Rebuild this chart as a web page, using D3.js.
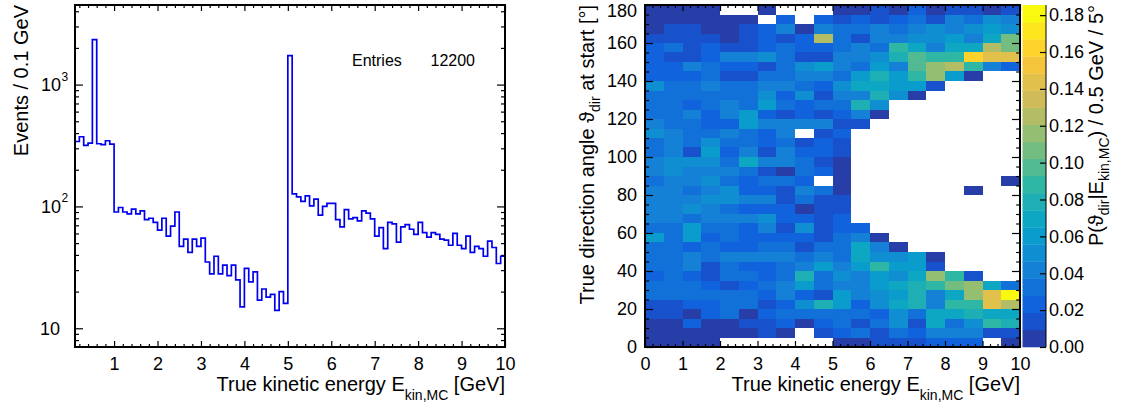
<!DOCTYPE html>
<html>
<head>
<meta charset="utf-8">
<script src="https://cdn.jsdelivr.net/npm/d3@7/dist/d3.min.js"></script>
<style>
  body { margin: 0; background: #fff; }
  svg text { font-family: "Liberation Sans", Arial, Helvetica, sans-serif; fill: #000; }
  .lbl, .tick text { font-size: 18px; }
  .title { font-size: 20px; }
</style>
</head>
<body>
<svg id="chart" width="1121" height="406"></svg>
<script>
// left plot: events per 0.1 GeV, first bin starts at 0.1 GeV
var histStart = 0.1, histStep = 0.1;
var eventCounts = [
  341, 373, 317, 331, 2340, 327, 321, 346, 325,
  90, 98, 90, 87, 95, 87, 92, 78, 80, 74,
  64, 80, 57, 69, 90, 47, 54, 42, 54, 47,
  55, 35, 28, 39, 28, 33, 27, 33, 25, 15,
  31, 24, 29, 17, 21, 18, 19, 14, 20, 16,
  1727, 127, 120, 110, 122, 101, 115, 85, 100, 106,
  106, 78, 68, 94, 79, 81, 76, 92, 88, 79,
  57, 67, 45, 74, 72, 51, 68, 71, 65, 59,
  74, 61, 56, 61, 59, 54, 53, 48, 60, 48,
  45, 57, 42, 47, 45, 39, 52, 46, 34, 39
];
var entries = 12200;
var logTicks = [10, 100, 1000];

// right plot: P(theta|E) x 1000, rows = 5 deg bins from 0 deg up, columns = 0.5 GeV bins
var energyStep = 0.5, angleStep = 5;
var probPerMille = [
  [5,5,5,5,0,0,0,0,0,0, 5,5,14,14,14,23,23,23,0,5],
  [5,5,5,5,5,5,14,5,0,14, 23,32,14,32,23,42,42,42,14,14],
  [5,5,23,5,5,14,14,23,5,23, 32,14,32,51,14,70,32,51,88,79],
  [14,14,5,23,32,5,23,32,32,32, 32,32,23,51,32,70,70,79,70,70],
  [14,14,23,23,32,32,14,23,51,79, 60,23,51,70,79,42,88,88,144,125],
  [32,32,32,32,32,32,23,42,23,14, 60,42,51,60,79,42,70,116,144,184],
  [32,32,32,23,14,23,32,42,60,32, 42,42,60,70,79,88,107,116,70,32],
  [23,32,23,14,32,32,23,32,79,32, 51,42,60,51,70,116,88,14,0,0],
  [32,32,42,14,32,23,23,32,42,60, 42,60,88,60,60,14,0,0,0,0],
  [32,32,42,32,42,42,42,42,32,42, 32,70,51,51,60,5,0,0,0,0],
  [32,32,23,32,23,23,32,32,14,32, 32,70,42,5,0,0,0,0,0,0],
  [60,32,60,23,32,23,23,23,23,14, 32,42,5,0,0,0,0,0,0,0],
  [32,32,60,32,32,23,42,14,51,14, 23,23,0,0,0,0,0,0,0,0],
  [42,42,32,42,42,42,51,23,23,14, 23,0,0,0,0,0,0,0,0,0],
  [42,42,51,42,32,23,23,23,5,14, 14,0,0,0,0,0,0,0,0,0],
  [42,42,42,51,51,42,42,14,32,14, 14,0,0,0,0,0,0,0,0,0],
  [42,42,32,42,51,23,23,14,42,32, 5,0,0,0,0,0,0,5,0,0],
  [32,42,42,51,32,23,32,32,23,0, 5,0,0,0,0,0,0,0,0,5],
  [42,51,42,42,42,32,14,5,32,23, 5,0,0,0,0,0,0,0,0,0],
  [42,51,51,51,32,70,42,42,32,14, 5,0,0,0,0,0,0,0,0,0],
  [32,42,14,60,23,42,14,42,23,23, 14,0,0,0,0,0,0,0,0,0],
  [32,42,32,51,32,32,23,32,14,23, 14,0,0,0,0,0,0,0,0,0],
  [51,42,32,32,42,32,23,42,0,14, 23,0,0,0,0,0,0,0,0,0],
  [42,32,32,23,23,60,42,42,42,42, 14,14,0,0,0,0,0,0,0,0],
  [32,32,42,23,42,60,23,14,23,14, 23,42,5,0,0,0,0,0,0,0],
  [32,32,23,32,42,32,60,32,23,32, 32,79,51,0,0,0,0,0,0,0],
  [32,32,32,32,32,32,51,23,51,14, 42,42,79,51,5,0,0,0,0,0],
  [51,32,32,42,32,32,42,42,32,23, 51,70,70,60,60,14,0,0,0,0],
  [23,23,23,32,14,14,32,32,42,42, 32,60,79,60,88,116,60,5,0,0],
  [23,23,42,32,23,23,14,32,51,60, 42,32,60,42,97,116,125,88,42,23],
  [23,14,14,23,42,42,51,32,14,14, 42,42,51,79,97,88,88,162,144,144],
  [23,32,14,23,14,14,23,32,23,23, 32,42,32,88,70,42,70,70,125,107],
  [14,14,14,14,5,14,23,14,23,125, 32,14,42,42,51,51,60,42,70,107],
  [5,14,14,5,5,14,23,42,5,42, 32,32,42,32,42,51,42,51,60,51],
  [5,5,5,5,5,5,0,23,0,23, 14,23,14,23,32,14,42,32,51,42],
  [5,5,5,5,0,0,5,0,0,0, 5,5,14,5,23,5,14,14,5,14]
];
var zMax = 0.1855;
var zTicks = [0, 0.02, 0.04, 0.06, 0.08, 0.10, 0.12, 0.14, 0.16, 0.18];

// ROOT kBird palette, 20 contours
var birdStops = [0.0000, 0.1250, 0.2500, 0.3750, 0.5000, 0.6250, 0.7500, 0.8750, 1.0000];
var birdRed   = [0.2082, 0.0592, 0.0780, 0.0232, 0.1802, 0.5301, 0.8186, 0.9956, 0.9764];
var birdGreen = [0.1664, 0.3599, 0.5041, 0.6419, 0.7178, 0.7492, 0.7328, 0.7862, 0.9832];
var birdBlue  = [0.5293, 0.8684, 0.8385, 0.7914, 0.6425, 0.4662, 0.3499, 0.1968, 0.0539];
var nContours = 20;

var bird = d3.scaleLinear()
  .domain(birdStops)
  .range(birdStops.map(function(s, i) { return d3.rgb(birdRed[i]*255, birdGreen[i]*255, birdBlue[i]*255); }))
  .interpolate(d3.interpolateRgb);
var bandColors = d3.range(nContours).map(function(c) {
  return bird(Math.floor((c + 0.99) * 255 / nContours) / 255);
});
var zColor = d3.scaleQuantize().domain([0, zMax]).range(bandColors);

var svg = d3.select("#chart");

function fineRange(lo, hi, step) {
  return d3.range(Math.round(lo/step), Math.round(hi/step) + 1).map(function(i) { return +(i*step).toFixed(4); });
}
function cleanAxis(g) {
  g.select(".domain").remove();
  g.attr("font-size", null).attr("font-family", null);
  g.selectAll(".tick line").attr("stroke-width", 1.2);
}

// ================= left: spectrum =================
var xE = d3.scaleLinear().domain([0.1, 10]).range([75, 505]);
var yN = d3.scaleLog().domain([7.02, 4500]).range([347, 5]);

var majorE = d3.range(1, 11);
var minorE = fineRange(0.2, 9.8, 0.2).filter(function(d) { return Math.abs(d - Math.round(d)) > 1e-6; });
var minorN = [8, 9, 20, 30, 40, 50, 60, 70, 80, 90, 200, 300, 400, 500, 600, 700, 800, 900, 2000, 3000, 4000];

svg.append("g").attr("transform", "translate(0,347)")
  .call(d3.axisBottom(xE).tickValues(majorE).tickSize(-6).tickPadding(10).tickFormat(d3.format("d")))
  .call(cleanAxis);
svg.append("g").attr("transform", "translate(0,347)")
  .call(d3.axisBottom(xE).tickValues(minorE).tickSize(-3).tickFormat(""))
  .call(cleanAxis);
svg.append("g").attr("transform", "translate(0,5)")
  .call(d3.axisTop(xE).tickValues(majorE).tickSize(-6).tickFormat(""))
  .call(cleanAxis);
svg.append("g").attr("transform", "translate(0,5)")
  .call(d3.axisTop(xE).tickValues(minorE).tickSize(-3).tickFormat(""))
  .call(cleanAxis);
svg.append("g").attr("transform", "translate(75,0)")
  .call(d3.axisLeft(yN).tickValues(logTicks).tickSize(-8).tickFormat(""))
  .call(cleanAxis);
svg.append("g").attr("transform", "translate(75,0)")
  .call(d3.axisLeft(yN).tickValues(minorN).tickSize(-4).tickFormat(""))
  .call(cleanAxis);
svg.append("g").attr("transform", "translate(505,0)")
  .call(d3.axisRight(yN).tickValues(logTicks).tickSize(-8).tickFormat(""))
  .call(cleanAxis);
svg.append("g").attr("transform", "translate(505,0)")
  .call(d3.axisRight(yN).tickValues(minorN).tickSize(-4).tickFormat(""))
  .call(cleanAxis);

// log labels 10, 10^2, 10^3
logTicks.forEach(function(v) {
  var e = Math.round(Math.log10(v));
  svg.append("text").attr("class", "lbl")
    .attr("x", e === 1 ? 60 : 61).attr("y", yN(v)).attr("dy", "0.35em")
    .attr("text-anchor", "end").text("10");
  if (e > 1) {
    svg.append("text").attr("x", 61.5).attr("y", yN(v) - 4)
      .style("font-size", "12px").text(e);
  }
});

// step histogram
var histPts = [[xE(histStart), yN.range()[0]]];
eventCounts.forEach(function(c, i) { histPts.push([xE(histStart + i*histStep), yN(c)]); });
histPts.push([xE(histStart + eventCounts.length*histStep), yN(eventCounts[eventCounts.length - 1])]);
svg.append("path")
  .attr("d", d3.line().curve(d3.curveStepAfter)(histPts))
  .attr("fill", "none")
  .attr("stroke", "#0000ee")
  .attr("stroke-width", 1.7);

svg.append("rect").attr("x", 75).attr("y", 5).attr("width", 430).attr("height", 342)
  .attr("fill", "none").attr("stroke", "#000").attr("stroke-width", 2);

// stats
svg.append("text").attr("x", 352).attr("y", 66).style("font-size", "16px").text("Entries");
svg.append("text").attr("x", 475).attr("y", 66).attr("text-anchor", "end").style("font-size", "16px").text(entries);

// titles
var xt1 = svg.append("text").attr("class", "title").attr("x", 505).attr("y", 391).attr("text-anchor", "end");
xt1.append("tspan").text("True kinetic energy E");
xt1.append("tspan").attr("dy", 9).style("font-size", "14px").text("kin,MC");
xt1.append("tspan").attr("dy", -9).text(" [GeV]");

svg.append("text").attr("class", "title")
  .attr("transform", "translate(27.5,5) rotate(-90)")
  .attr("text-anchor", "end").text("Events / 0.1 GeV");

// ================= right: angle vs energy =================
var xK = d3.scaleLinear().domain([0, 10]).range([645, 1020]);
var yA = d3.scaleLinear().domain([0, 180]).range([347, 5]);
var yZ = d3.scaleLinear().domain([0, zMax]).range([347, 5]);

var cells = [];
probPerMille.forEach(function(row, j) {
  row.forEach(function(p, i) {
    if (p > 0) cells.push({ e: i*energyStep, a: j*angleStep, p: p/1000 });
  });
});

svg.append("g").selectAll("rect")
  .data(cells)
  .join("rect")
  .attr("x", function(d) { return Math.round(xK(d.e)); })
  .attr("y", function(d) { return Math.round(yA(d.a + angleStep)); })
  .attr("width", function(d) { return Math.round(xK(d.e + energyStep)) - Math.round(xK(d.e)); })
  .attr("height", function(d) { return Math.round(yA(d.a)) - Math.round(yA(d.a + angleStep)); })
  .attr("fill", function(d) { return zColor(d.p); })
  .attr("shape-rendering", "crispEdges");

var majorK = d3.range(0, 11);
var minorK = fineRange(0.2, 9.8, 0.2).filter(function(d) { return Math.abs(d - Math.round(d)) > 1e-6; });
var majorA = d3.range(0, 181, 20);
var minorA = d3.range(5, 180, 5).filter(function(d) { return d % 20 !== 0; });

svg.append("g").attr("transform", "translate(0,347)")
  .call(d3.axisBottom(xK).tickValues(majorK).tickSize(-6).tickPadding(10).tickFormat(d3.format("d")))
  .call(cleanAxis);
svg.append("g").attr("transform", "translate(0,347)")
  .call(d3.axisBottom(xK).tickValues(minorK).tickSize(-3).tickFormat(""))
  .call(cleanAxis);
svg.append("g").attr("transform", "translate(0,5)")
  .call(d3.axisTop(xK).tickValues(majorK).tickSize(-6).tickFormat(""))
  .call(cleanAxis);
svg.append("g").attr("transform", "translate(0,5)")
  .call(d3.axisTop(xK).tickValues(minorK).tickSize(-3).tickFormat(""))
  .call(cleanAxis);
svg.append("g").attr("transform", "translate(645,0)")
  .call(d3.axisLeft(yA).tickValues(majorA).tickSize(-8).tickPadding(8).tickFormat(d3.format("d")))
  .call(cleanAxis)
  .call(function(g) {
    // keep the top label inside the page
    g.selectAll(".tick text").filter(function(d) { return d === 180; }).attr("y", 5.5);
  });
svg.append("g").attr("transform", "translate(645,0)")
  .call(d3.axisLeft(yA).tickValues(minorA).tickSize(-4).tickFormat(""))
  .call(cleanAxis);
svg.append("g").attr("transform", "translate(1020,0)")
  .call(d3.axisRight(yA).tickValues(majorA).tickSize(-8).tickFormat(""))
  .call(cleanAxis);
svg.append("g").attr("transform", "translate(1020,0)")
  .call(d3.axisRight(yA).tickValues(minorA).tickSize(-4).tickFormat(""))
  .call(cleanAxis);

svg.append("rect").attr("x", 645).attr("y", 5).attr("width", 375).attr("height", 342)
  .attr("fill", "none").attr("stroke", "#000").attr("stroke-width", 2);

// palette
svg.append("g").selectAll("rect")
  .data(bandColors)
  .join("rect")
  .attr("x", 1022.5)
  .attr("width", 23.5)
  .attr("y", function(c, i) { return yZ((i + 1) * zMax / nContours); })
  .attr("height", function(c, i) { return yZ(i * zMax / nContours) - yZ((i + 1) * zMax / nContours) + 0.3; })
  .attr("fill", function(c) { return c; });

svg.append("g").attr("transform", "translate(1046,0)")
  .call(d3.axisRight(yZ).tickValues(zTicks).tickSize(-6).tickPadding(3).tickFormat(d3.format(".2f")))
  .call(cleanAxis);
svg.append("line").attr("x1", 1046).attr("x2", 1046).attr("y1", 5).attr("y2", 347)
  .attr("stroke", "#000").attr("stroke-width", 1);

// titles
var xt2 = svg.append("text").attr("class", "title").attr("x", 1020).attr("y", 391).attr("text-anchor", "end");
xt2.append("tspan").text("True kinetic energy E");
xt2.append("tspan").attr("dy", 9).style("font-size", "14px").text("kin,MC");
xt2.append("tspan").attr("dy", -9).text(" [GeV]");

var yt2 = svg.append("text").attr("class", "title")
  .attr("transform", "translate(594,5) rotate(-90)")
  .attr("text-anchor", "end");
yt2.append("tspan").text("True direction angle \u03D1");
yt2.append("tspan").attr("dy", 6).style("font-size", "14px").text("dir");
yt2.append("tspan").attr("dy", -6).text(" at start [\u00B0]");

var zt = svg.append("text").attr("class", "title")
  .attr("transform", "translate(1103,5) rotate(-90)")
  .attr("text-anchor", "end");
zt.append("tspan").text("P(\u03D1");
zt.append("tspan").attr("dy", 6).style("font-size", "14px").text("dir");
zt.append("tspan").attr("dy", -6).text("|E");
zt.append("tspan").attr("dy", 6).style("font-size", "14px").text("kin,MC");
zt.append("tspan").attr("dy", -6).text(") / 0.5 GeV / 5\u00B0");
</script>
</body>
</html>
